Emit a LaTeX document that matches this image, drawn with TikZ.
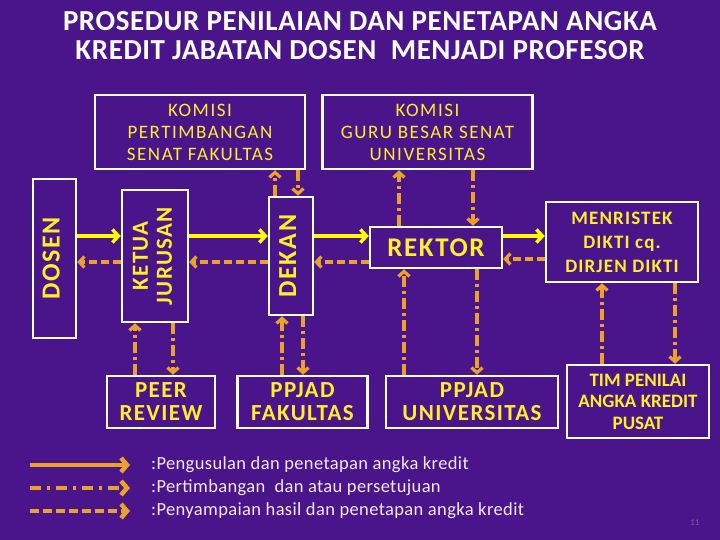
\documentclass[tikz,border=0pt]{standalone}
\usepackage{fontspec}
\setmainfont{Carlito}
\newfontfamily\spaced[LetterSpace=6]{Carlito}
\newfontfamily\airy[LetterSpace=8]{Carlito}
\newfontfamily\wide[LetterSpace=2]{Carlito}
\usetikzlibrary{arrows.meta,positioning}
\definecolor{bgpurple}{RGB}{74,20,138}
\definecolor{boxyellow}{RGB}{255,238,40}
\definecolor{flowyellow}{RGB}{255,250,0}
\definecolor{orangeline}{RGB}{234,162,40}
\definecolor{legendtext}{RGB}{242,234,252}
\newcommand{\upword}[1]{\rotatebox{90}{\begin{tabular}{@{}c@{}}#1\end{tabular}}}

\begin{document}
\begin{tikzpicture}[x=1pt, y=-1pt,
  unit/.style={draw=white, line width=2.5pt, inner sep=0pt, align=center, text=boxyellow, font=\airy\fontsize{19}{22}\selectfont},
  upright/.style={unit, font=\spaced\bfseries\fontsize{26}{22}\selectfont},
  big/.style={font=\spaced\bfseries\fontsize{23}{23}\selectfont},
  flow/.style={-{Straight Barb[length=6pt,width=13pt]}, line width=3.5pt, flowyellow},
  reply/.style={-{Straight Barb[length=5pt,width=11pt]}, line width=3.2pt, orangeline, dash pattern=on 8pt off 4pt},
  advice/.style={-{Straight Barb[length=5pt,width=11pt]}, line width=3.2pt, orangeline, dash pattern=on 11pt off 4pt on 3pt off 4pt},
  key/.style={line width=4.5pt, orangeline, -{Straight Barb[length=6pt,width=14pt]}},
  legend/.style={inner sep=0pt, anchor=west, text=legendtext, font=\wide\fontsize{18.5}{18.5}\selectfont},
]
  \fill[bgpurple] (0,0) rectangle (720,540);
  \useasboundingbox (0,0) rectangle (720,540);

  \node[white, align=center, font=\wide\bfseries\fontsize{29}{29}\selectfont] (title) at (360,36)
       {PROSEDUR PENILAIAN DAN PENETAPAN ANGKA\\KREDIT JABATAN DOSEN\ \ MENJADI PROFESOR};

  % komisi di atas
  \node[unit, minimum width=210pt, minimum height=74pt] (kpsf) at (200,132)
       {KOMISI\\PERTIMBANGAN\\SENAT FAKULTAS};
  \node[unit, minimum width=210pt, minimum height=74pt, right=15pt of kpsf] (kgbsu)
       {KOMISI\\GURU BESAR SENAT\\UNIVERSITAS};

  % jalur utama
  \node[upright, minimum width=43pt, minimum height=159pt] (dosen) at (54.5,258.5) {\upword{DOSEN}};
  \node[upright, minimum width=66pt, minimum height=132pt, font=\spaced\bfseries\fontsize{23}{24}\selectfont]
       (ketua) at (155,256) {\upword{KETUA\\JURUSAN}};
  \node[upright, minimum width=44pt, minimum height=118pt] (dekan) at (291,256) {\upword{DEKAN}};
  \node[unit, minimum width=132pt, minimum height=41pt, font=\spaced\bfseries\fontsize{27}{27}\selectfont]
       (rektor) at (436,247.5) {REKTOR};
  \node[unit, minimum width=152pt, minimum height=80pt, font=\spaced\bfseries\fontsize{19}{24}\selectfont]
       (menristek) at (622,242) {MENRISTEK\\DIKTI cq.\\DIRJEN DIKTI};

  % penilai di bawah
  \node[unit, big, minimum width=108pt, minimum height=52pt] (peer) at (161,402) {PEER\\REVIEW};
  \node[unit, big, minimum width=130pt, minimum height=52pt, right=20pt of peer] (ppjadf) {PPJAD\\FAKULTAS};
  \node[unit, big, minimum width=172pt, minimum height=52pt, right=16pt of ppjadf] (ppjadu) {PPJAD\\UNIVERSITAS};
  \node[unit, minimum width=142pt, minimum height=73pt, font=\bfseries\fontsize{19}{21.5}\selectfont]
       (tim) at (638,401.5) {TIM PENILAI\\ANGKA KREDIT\\PUSAT};

  \coordinate (go) at (0,236);
  \coordinate (back) at (0,262);
  \draw[flow] (dosen.east |- go) -- (ketua.west |- go);
  \draw[flow] (ketua.east |- go) -- (dekan.west |- go);
  \draw[flow] (dekan.east |- go) -- (rektor.west |- go);
  \draw[flow] (rektor.east |- go) -- (menristek.west |- go);
  \draw[reply] (ketua.west |- back) -- (dosen.east |- back);
  \draw[reply] (dekan.west |- back) -- (ketua.east |- back);
  \draw[reply] (rektor.west |- back) -- (dekan.east |- back);
  \draw[reply] (menristek.west |- 0,259) -- (rektor.east |- 0,259);

  % pertimbangan naik turun
  \foreach \x/\a/\b in {275/dekan.north/kpsf.south, 298/kpsf.south/dekan.north,
                        399/rektor.north/kgbsu.south, 473/kgbsu.south/rektor.north,
                        135/peer.north/ketua.south, 173/ketua.south/peer.north,
                        282/ppjadf.north/dekan.south, 303/dekan.south/ppjadf.north,
                        404/ppjadu.north/rektor.south, 477/rektor.south/ppjadu.north,
                        602/tim.north/menristek.south, 675/menristek.south/tim.north}{
    \coordinate (col) at (\x,0);
    \draw[advice] (\a -| col) -- (\b -| col);
  }

  % keterangan
  \coordinate (k1) at (30,465);  \coordinate (k1e) at (130,465);
  \coordinate (k2) at (30,488);  \coordinate (k2e) at (130,488);
  \coordinate (k3) at (30,511);  \coordinate (k3e) at (130,511);
  \draw[key] (k1) -- (k1e);
  \draw[key, dash pattern=on 11pt off 6pt on 3pt off 6pt] (k2) -- (k2e);
  \draw[key, dash pattern=on 9pt off 4pt] (k3) -- (k3e);
  \node[legend, right=21pt of k1e] (l1) {:Pengusulan dan penetapan angka kredit};
  \node[legend, right=21pt of k2e] (l2) {:Pertimbangan\ \ dan atau persetujuan};
  \node[legend, right=21pt of k3e] (l3) {:Penyampaian hasil dan penetapan angka kredit};
  \node[text=bgpurple!70!white, font=\fontsize{9}{9}\selectfont] (pagenum) at (695,523) {11};
\end{tikzpicture}
\end{document}
